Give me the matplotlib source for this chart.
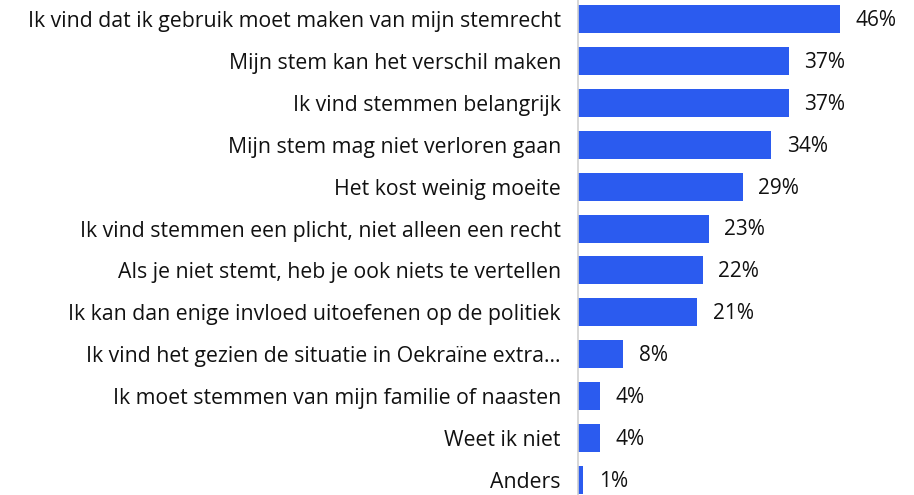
import matplotlib.pyplot as plt

# -----------------------------------------------------------------------------
# Data
# -----------------------------------------------------------------------------
labels = [
    "Ik vind dat ik gebruik moet maken van mijn stemrecht",
    "Mijn stem kan het verschil maken",
    "Ik vind stemmen belangrijk",
    "Mijn stem mag niet verloren gaan",
    "Het kost weinig moeite",
    "Ik vind stemmen een plicht, niet alleen een recht",
    "Als je niet stemt, heb je ook niets te vertellen",
    "Ik kan dan enige invloed uitoefenen op de politiek",
    "Ik vind het gezien de situatie in Oekraïne extra...",
    "Ik moet stemmen van mijn familie of naasten",
    "Weet ik niet",
    "Anders",
]
values = [46, 37, 37, 34, 29, 23, 22, 21, 8, 4, 4, 1]

bar_color = "#2B5BEF"
font = ["Open Sans", "DejaVu Sans"]

# -----------------------------------------------------------------------------
# Plot
# -----------------------------------------------------------------------------
fig = plt.figure(figsize=(9.14, 4.95), dpi=100)
ax = fig.add_axes([0.632, 0.0, 0.368, 1.0])

ypos = list(range(len(labels)))
ax.barh(ypos, values, height=0.67, color=bar_color)

for y, v in zip(ypos, values):
    ax.annotate(f"{v}%", (v, y), xytext=(11, -1), textcoords="offset points",
                va="center", ha="left", fontsize=15, family=font, color="#111111")

ax.set_xlim(0, 59)
ax.set_ylim(11 + 15 / 41.9, -19 / 41.9)
ax.set_yticks(ypos)
ax.set_yticklabels(labels, fontsize=15.3, family=font, color="#111111")
ax.tick_params(axis="y", length=0, pad=12)
ax.set_xticks([])

for side in ["top", "right", "bottom"]:
    ax.spines[side].set_visible(False)
ax.spines["left"].set_color("#D0D0D0")
ax.spines["left"].set_linewidth(1.2)

fig.savefig("out.png", dpi=100)
